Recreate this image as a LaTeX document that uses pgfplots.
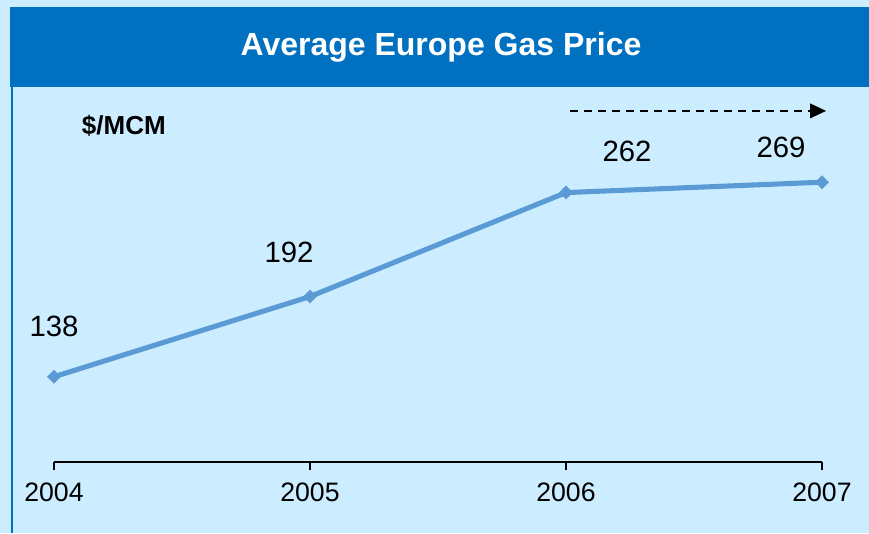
\documentclass[border=0pt]{standalone}
\usepackage{fontspec}
\setmainfont{Liberation Sans}
\usepackage{pgfplots}
\pgfplotsset{compat=1.18}
\usetikzlibrary{arrows.meta}

\definecolor{bgblue}{RGB}{204,236,255}
\definecolor{barblue}{RGB}{0,112,192}
\definecolor{lineblue}{RGB}{91,155,213}

\begin{document}
\begin{tikzpicture}
% canvas: 869x533 px at 0.75pt/px, origin at the axis' lower left corner
\path[use as bounding box, fill=bgblue] (-40.5pt,-53.25pt) rectangle (611.25pt,346.5pt);
\fill[barblue] (-33pt,281.25pt) rectangle (611.25pt,341.25pt);
\node[text=white, font=\fontsize{24}{28}\selectfont\bfseries] at (290.25pt,311.25pt) {Average Europe Gas Price};
\draw[barblue, line width=1.5pt] (-31.5pt,-53.25pt) -- (-31.5pt,281.25pt);

\begin{axis}[
    scale only axis,
    width=576pt, height=270pt,
    xmin=0, xmax=3,
    ymin=80.6, ymax=323,
    axis x line=bottom,
    axis y line=none,
    axis line style={-, black, line width=0.9pt},
    xtick={0,1,2,3},
    xticklabels={2004,2005,2006,2007},
    tick align=outside,
    major tick length=6pt,
    tick style={black, line width=0.9pt},
    xticklabel style={font=\fontsize{20}{24}\selectfont, yshift=-6pt},
    clip=false,
]
\addplot[lineblue, line width=3.8pt, mark=square*, mark size=3.5pt,
         mark options={fill=lineblue, draw=lineblue, line width=0.3pt, rotate=45}]
    coordinates {(0,138) (1,192) (2,262) (3,269)};

\node[font=\fontsize{22}{26}\selectfont] at ([xshift=0pt, yshift=37.5pt]axis cs:0,138) {138};
\node[font=\fontsize{22}{26}\selectfont] at ([xshift=-15.75pt, yshift=33pt]axis cs:1,192) {192};
\node[font=\fontsize{22}{26}\selectfont] at ([xshift=45.75pt, yshift=30.75pt]axis cs:2,262) {262};
\node[font=\fontsize{22}{26}\selectfont] at ([xshift=-30.75pt, yshift=26.25pt]axis cs:3,269) {269};

\node[font=\fontsize{19.5}{23}\selectfont\bfseries] at (axis cs:0.273,306.8) {\$/MCM};

\draw[black, line width=1.1pt, dash pattern=on 6pt off 4.5pt,
      -{Triangle[length=12pt, width=11pt]}]
    (axis cs:2.016,317) -- (axis cs:3.016,317);
\end{axis}
\end{tikzpicture}
\end{document}
